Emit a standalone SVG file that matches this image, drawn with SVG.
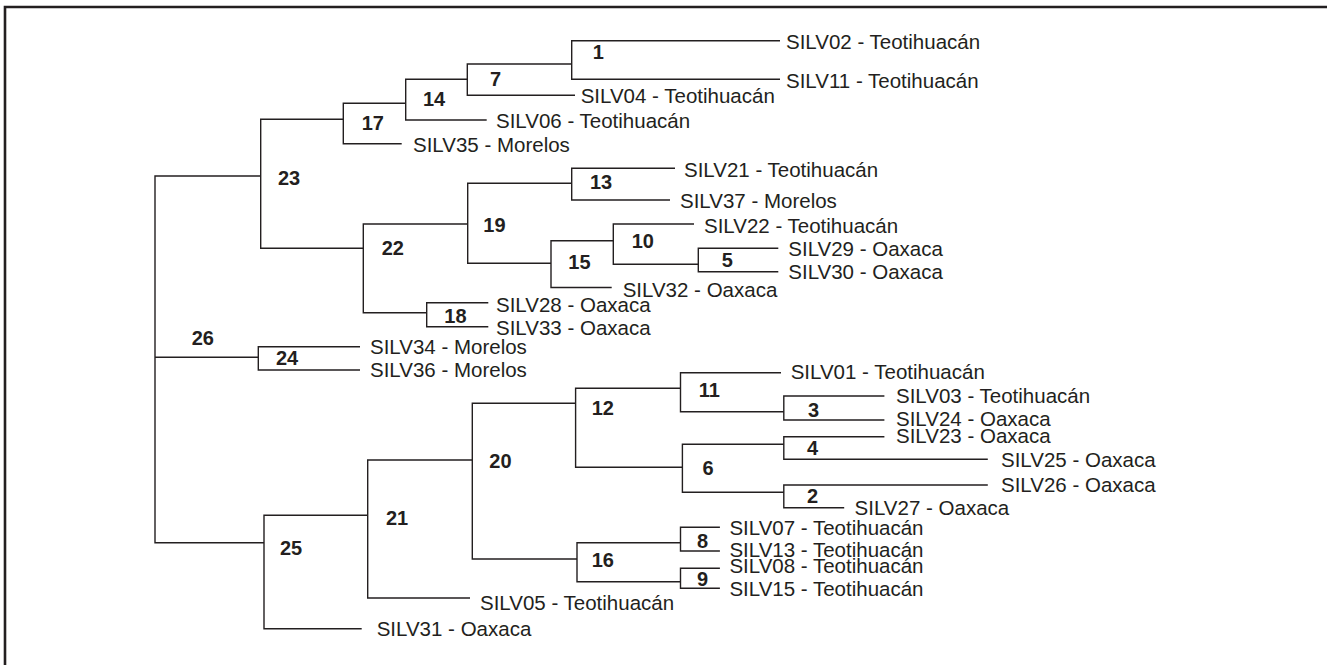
<svg xmlns="http://www.w3.org/2000/svg" width="1327" height="665" viewBox="0 0 1327 665">
<style>
.frame{stroke:#231f20;stroke-width:2.6;fill:none}
.br{stroke:#231f20;stroke-width:1.4;fill:none}
.leaf{font-family:"Liberation Sans",Arial,sans-serif;font-size:20.5px;fill:#231f20}
.num{font-family:"Liberation Sans",Arial,sans-serif;font-size:20px;font-weight:bold;fill:#231f20}
</style>
<rect width="1327" height="665" fill="#ffffff"/>
<path class="frame" d="M5,665 V7 H1327"/>
<g id="connectors">
<path class="br" d="M260.7,176 H155 V542.7 H264 M155,357.3 H258.3"/>
<path class="br" d="M343.3,119.3 H260.7 V248.3 H363.3"/>
<path class="br" d="M405.7,103.3 H343.3 V143.7 H401.7"/>
<path class="br" d="M467.3,79.3 H405.7 V120 H486.7"/>
<path class="br" d="M571.7,64 H467.3 V95.3 H575"/>
<path class="br" d="M780,40.7 H571.7 V79.3 H780"/>
<path class="br" d="M467.7,224 H363.3 V312.7 H426.7"/>
<path class="br" d="M571.7,183.3 H467.7 V263.3 H551"/>
<path class="br" d="M675,168.3 H571.7 V200 H670"/>
<path class="br" d="M613.3,240.7 H551 V287.5 H611.7"/>
<path class="br" d="M694,224 H613.3 V264.3 H698.3"/>
<path class="br" d="M778.3,248.3 H698.3 V271.7 H778.3"/>
<path class="br" d="M488.3,302.7 H426.7 V326.7 H488.3"/>
<path class="br" d="M360,346.7 H258.3 V370 H360"/>
<path class="br" d="M367.7,515.3 H264 V628.7 H361.7"/>
<path class="br" d="M472.3,460 H367.7 V598 H470"/>
<path class="br" d="M575.6,403.3 H472.3 V559 H577"/>
<path class="br" d="M680.5,388.3 H575.6 V467.3 H682.4"/>
<path class="br" d="M781,372.7 H680.5 V411.7 H783.8"/>
<path class="br" d="M884.4,396 H783.8 V420 H884.4"/>
<path class="br" d="M783.8,444.3 H682.4 V492.3 H783.8"/>
<path class="br" d="M884.4,436.7 H783.8 V459.3 H987.8"/>
<path class="br" d="M987.8,485 H783.8 V507.7 H844.2"/>
<path class="br" d="M680.5,542.7 H577 V581.7 H680.5"/>
<path class="br" d="M719.9,527.3 H680.5 V551 H719.9"/>
<path class="br" d="M719.9,568.3 H680.5 V588.3 H719.9"/>
</g>
<g id="n26"><text class="num" x="191.7" y="345">26</text></g>
<g id="n23"><text class="num" x="278" y="185">23</text></g>
<g id="n17"><text class="num" x="361.7" y="130">17</text><text class="leaf" x="413" y="152">SILV35 - Morelos</text></g>
<g id="n14"><text class="num" x="423" y="106">14</text><text class="leaf" x="496" y="128">SILV06 - Teotihuacán</text></g>
<g id="n7"><text class="num" x="490" y="86">7</text><text class="leaf" x="580.7" y="103.3">SILV04 - Teotihuacán</text></g>
<g id="n1"><text class="num" x="592.7" y="59.3">1</text><text class="leaf" x="786" y="49.3">SILV02 - Teotihuacán</text><text class="leaf" x="786" y="88">SILV11 - Teotihuacán</text></g>
<g id="n22"><text class="num" x="381.7" y="255">22</text></g>
<g id="n19"><text class="num" x="483.3" y="231.7">19</text></g>
<g id="n13"><text class="num" x="590" y="189.3">13</text><text class="leaf" x="684" y="176.7">SILV21 - Teotihuacán</text><text class="leaf" x="680" y="207.7">SILV37 - Morelos</text></g>
<g id="n15"><text class="num" x="568.3" y="269.3">15</text><text class="leaf" x="622.7" y="296.7">SILV32 - Oaxaca</text></g>
<g id="n10"><text class="num" x="631.7" y="248.3">10</text><text class="leaf" x="704" y="232.7">SILV22 - Teotihuacán</text></g>
<g id="n5"><text class="num" x="721.7" y="266.7">5</text><text class="leaf" x="788.3" y="256">SILV29 - Oaxaca</text><text class="leaf" x="788.3" y="279.3">SILV30 - Oaxaca</text></g>
<g id="n18"><text class="num" x="444.3" y="322.7">18</text><text class="leaf" x="496" y="311.7">SILV28 - Oaxaca</text><text class="leaf" x="496" y="335">SILV33 - Oaxaca</text></g>
<g id="n24"><text class="num" x="276" y="365">24</text><text class="leaf" x="370" y="354">SILV34 - Morelos</text><text class="leaf" x="370" y="376.7">SILV36 - Morelos</text></g>
<g id="n25"><text class="num" x="280" y="555">25</text><text class="leaf" x="376.7" y="636">SILV31 - Oaxaca</text></g>
<g id="n21"><text class="num" x="386" y="525">21</text><text class="leaf" x="480" y="610">SILV05 - Teotihuacán</text></g>
<g id="n20"><text class="num" x="489.3" y="468.3">20</text></g>
<g id="n12"><text class="num" x="591.7" y="415">12</text></g>
<g id="n11"><text class="num" x="698.8" y="397.3">11</text><text class="leaf" x="790.7" y="379.3">SILV01 - Teotihuacán</text></g>
<g id="n3"><text class="num" x="808" y="416.7">3</text><text class="leaf" x="896" y="402.7">SILV03 - Teotihuacán</text><text class="leaf" x="896" y="426">SILV24 - Oaxaca</text></g>
<g id="n6"><text class="num" x="702.6" y="475">6</text></g>
<g id="n4"><text class="num" x="807" y="455">4</text><text class="leaf" x="896" y="443.3">SILV23 - Oaxaca</text><text class="leaf" x="1001" y="466.7">SILV25 - Oaxaca</text></g>
<g id="n2"><text class="num" x="807" y="503.3">2</text><text class="leaf" x="1001" y="491.7">SILV26 - Oaxaca</text><text class="leaf" x="854.6" y="515">SILV27 - Oaxaca</text></g>
<g id="n16"><text class="num" x="591.7" y="567.3">16</text></g>
<g id="n8"><text class="num" x="696.9" y="548.3">8</text><text class="leaf" x="729.4" y="535">SILV07 - Teotihuacán</text><text class="leaf" x="729.4" y="557.3">SILV13 - Teotihuacán</text></g>
<g id="n9"><text class="num" x="696.9" y="586">9</text><text class="leaf" x="729.4" y="573.3">SILV08 - Teotihuacán</text><text class="leaf" x="729.4" y="596">SILV15 - Teotihuacán</text></g>
</svg>
